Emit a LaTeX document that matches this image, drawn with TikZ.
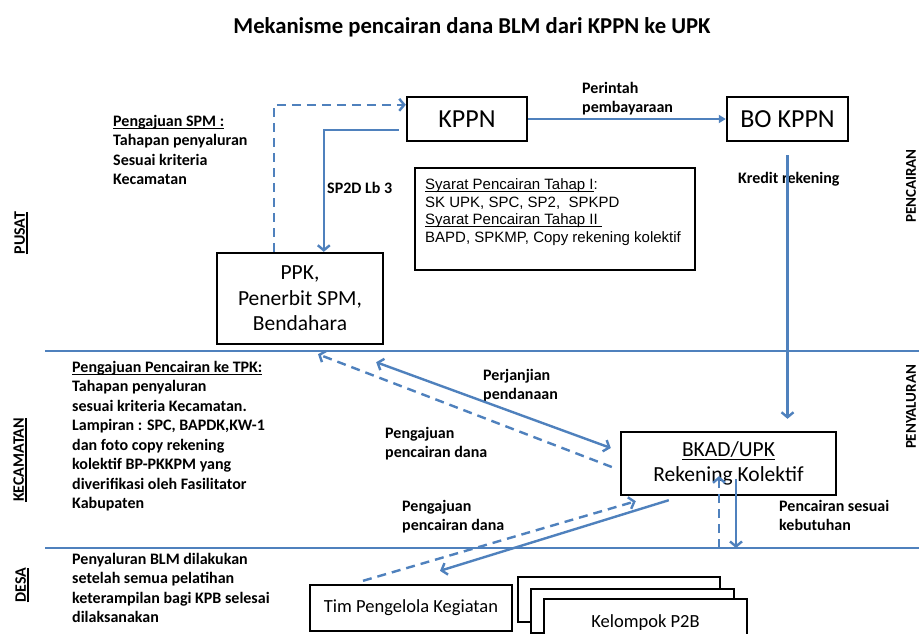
\documentclass[tikz,border=0pt]{standalone}
\usepackage{fontspec}
\setmainfont{Carlito}
\newfontfamily\arialf{Liberation Sans}
\usetikzlibrary{arrows.meta}
\definecolor{ublue}{HTML}{4F81BD}
\newcommand\ulx[1]{\leavevmode\setbox0=\hbox{#1}\rlap{\vrule height -0.1em depth 0.17em width \wd0}\box0}
\begin{document}
\begin{tikzpicture}[x=1pt,y=-1pt,
  box/.style={draw=black,line width=2.4pt,fill=white,inner sep=0pt},
  boxtext/.style={font=\fontsize{21.5}{25.5}\selectfont,align=center},
  lbl/.style={font=\fontsize{16}{19.5}\selectfont\bfseries,align=left,inner sep=0pt},
  side/.style={rotate=90,inner sep=0pt,font=\fontsize{16}{19}\selectfont\bfseries},
  conn/.style={draw=ublue,line width=2.4pt},
  arr/.style={conn,-{Straight Barb[length=5pt,width=12pt]}},
  darr/.style={conn,{Straight Barb[length=5pt,width=12pt]}-{Straight Barb[length=5pt,width=12pt]}},
  dsh/.style={conn,dash pattern=on 9pt off 6pt},
  dsharr/.style={dsh,-{Straight Barb[length=5pt,width=12pt]}},
]
\useasboundingbox (0,0) rectangle (919,633);
\fill[white] (0,0) rectangle (919,633);

% title
\node[font=\fontsize{22.7}{27}\selectfont\bfseries,anchor=base] (title) at (472,33) {Mekanisme pencairan dana BLM dari KPPN ke UPK};

% separator lines
\coordinate (h1a) at (45,351); \coordinate (h1b) at (919,351);
\coordinate (h2a) at (45,548); \coordinate (h2b) at (919,548);
\draw[conn] (h1a) -- (h1b);
\draw[conn] (h2a) -- (h2b);

% side labels
\node[side] (pusat) at (21,233) {\ulx{PUSAT}};
\node[side] (kec) at (20,460) {\ulx{KECAMATAN}};
\node[side] (desa) at (22,585) {\ulx{DESA}};
\node[side,font=\fontsize{15}{18}\selectfont\bfseries] (penc) at (911,186) {PENCAIRAN};
\node[side,font=\fontsize{15}{18}\selectfont\bfseries] (peny) at (911,407) {PENYALURAN};

% boxes
\node[box,minimum width=120pt,minimum height=44pt,font=\fontsize{26}{30}\selectfont] (kppn) at (467,119) {KPPN};
\node[box,minimum width=121pt,minimum height=44pt,font=\fontsize{26}{30}\selectfont] (bo) at (787.5,119) {BO KPPN};
\node[box,boxtext,minimum width=166pt,minimum height=91pt] (ppk) at (300,298.5) {PPK,\\Penerbit SPM,\\Bendahara};
\node[box,minimum width=280pt,minimum height=102pt] (syarat) at (555,219) {};
\node[anchor=north west,inner sep=0pt,align=left,font=\arialf\fontsize{15}{17.6}\selectfont] (syt) at (425,178.5)
  {\ulx{Syarat Pencairan Tahap I}:\\SK UPK, SPC, SP2,\ \ SPKPD\\\ulx{Syarat Pencairan Tahap II\ }\\BAPD, SPKMP, Copy rekening kolektif};
\node[box,boxtext,minimum width=215pt,minimum height=63pt] (bkad) at (728.5,463.5) {\ulx{BKAD/UPK}\\Rekening Kolektif};
\node[box,minimum width=202pt,minimum height=46pt,font=\fontsize{18.5}{22}\selectfont] (tim) at (411,608) {Tim Pengelola Kegiatan};
\node[box,minimum width=202pt,minimum height=45pt] (k1) at (619,599.5) {};
\node[box,minimum width=203pt,minimum height=44pt] (k2) at (632.5,611) {};
\node[box,minimum width=203pt,minimum height=46pt] (k3) at (645.5,622) {};
\node[font=\fontsize{18.5}{22}\selectfont,anchor=base,inner sep=0pt] (k3t) at (645.5,627) {Kelompok P2B};

% text blocks
\node[lbl,anchor=north west] (t1) at (113,115) {\ulx{Pengajuan SPM :}\\Tahapan penyaluran\\Sesuai kriteria\\Kecamatan};
\node[lbl,anchor=north west] (t2) at (72,361) {\ulx{Pengajuan Pencairan ke TPK:}\\Tahapan penyaluran\\sesuai kriteria Kecamatan.\\Lampiran : SPC, BAPDK,KW-1\\dan foto copy rekening\\kolektif BP-PKKPM yang\\diverifikasi oleh Fasilitator\\Kabupaten};
\node[lbl,anchor=north west] (t3) at (72,553) {Penyaluran BLM dilakukan\\setelah semua pelatihan\\keterampilan bagi KPB selesai\\dilaksanakan};

% connector labels
\node[lbl,anchor=north west] (l1) at (582,82) {Perintah\\pembayaraan};
\node[lbl,anchor=west] (l2) at (327,188) {SP2D Lb 3};
\node[lbl,anchor=west] (l3) at (738,179) {Kredit rekening};
\node[lbl,anchor=north west] (l4) at (483,369) {Perjanjian\\pendanaan};
\node[lbl,anchor=north west] (l5) at (385,427) {Pengajuan\\pencairan dana};
\node[lbl,anchor=north west] (l6) at (402,500) {Pengajuan\\pencairan dana};
\node[lbl,anchor=north west] (l7) at (779,500) {Pencairan sesuai\\kebutuhan};

% connectors
\draw[conn,-{Triangle[length=7pt,width=8pt]}] (kppn.east) -- (bo.west);
\draw[dsharr] ([xshift=58pt]ppk.north west) |- ([yshift=-9pt]kppn.north west);
\draw[arr] ([xshift=-7pt,yshift=-11pt]kppn.west) -| ([xshift=108pt]ppk.north west);
\coordinate (kr1) at ([yshift=-13pt]bo.south);
\coordinate (kr2) at (bo.south |- bkad.north);
\draw[arr] (kr1) -- ([yshift=12pt]kr2);
\draw[darr] ([xshift=-8pt,yshift=-17pt]ppk.south east) -- ([xshift=-9pt,yshift=15.5pt]bkad.west);
\draw[dsharr] ([xshift=-8pt,yshift=-3.5pt]bkad.west) -- ([xshift=18pt,yshift=-9pt]ppk.south);
\draw[dsharr] ([xshift=-48pt,yshift=3pt]tim.north) -- ([xshift=16pt,yshift=-5pt]bkad.south west);
\draw[arr] ([xshift=49pt,yshift=-4pt]bkad.south west) -- ([xshift=29pt,yshift=13pt]tim.north);
\coordinate (v1) at (719,548);
\coordinate (v2) at (736,548);
\draw[dsharr] (v1) -- ([xshift=-9.5pt,yshift=20pt]bkad.south);
\draw[arr] ([xshift=7.5pt,yshift=17pt]bkad.south) -- (v2);
\end{tikzpicture}
\end{document}
